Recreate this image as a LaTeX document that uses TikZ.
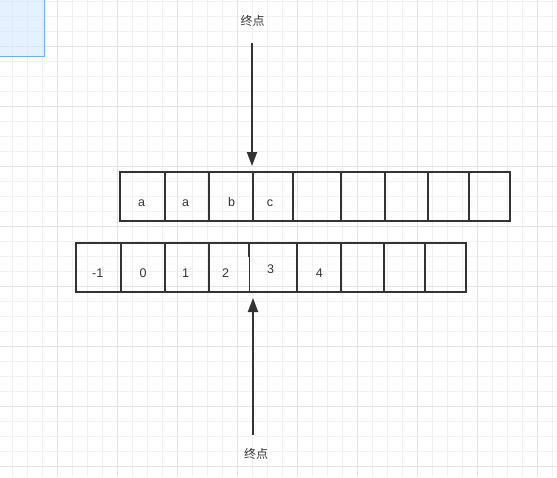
\documentclass[tikz,border=0pt]{standalone}
\usepackage{fontspec}
\setmainfont{Liberation Sans}
\newfontfamily\cjk{Noto Sans CJK SC}
\usetikzlibrary{arrows.meta}
\definecolor{ink}{HTML}{333333}
\definecolor{gridminor}{HTML}{F1F1F1}
\definecolor{gridmajor}{HTML}{E3E3E3}
\definecolor{selfill}{HTML}{CCE5FF}
\definecolor{selline}{HTML}{66B2FF}
\tikzset{
  box/.style={draw=ink, line width=1.8pt},
  pointer/.style={draw=ink, line width=2pt, -{Triangle[length=14pt,width=10pt]}},
  cellnum/.style={text=ink, font=\fontsize{12.5}{15}\selectfont, inner sep=0pt, anchor=base},
  endlabel/.style={text=ink, font=\cjk\fontsize{12}{14}\selectfont, inner sep=0pt}
}
\begin{document}
\begin{tikzpicture}[x=1pt, y=-1pt]
\useasboundingbox (0,0) rectangle (557,477);
\fill[white] (0,0) rectangle (557,477);
% grid
\foreach \k in {0,...,36}
  \draw[gridminor, line width=1pt] (12.7+15*\k, 0) -- (12.7+15*\k, 477);
\foreach \k in {0,...,31}
  \draw[gridminor, line width=1pt] (0, 1+15*\k) -- (557, 1+15*\k);
\foreach \k in {0,...,8}
  \draw[gridmajor, line width=1pt] (57.7+60*\k, 0) -- (57.7+60*\k, 477);
\foreach \k in {0,...,7}
  \draw[gridmajor, line width=1pt] (0, 46+60*\k) -- (557, 46+60*\k);
% selection in the corner
\filldraw[fill=selfill, fill opacity=0.5, draw=selline, line width=1pt]
(-2, -2) rectangle (44, 56);
% upper row
\draw[box] (120, 172) rectangle (510, 221);
\foreach \x in {165, 209, 253, 293, 341, 385, 428, 469}
  \draw[box] (\x, 172) -- (\x, 221);
\node[cellnum] (ca) at (141.7, 206) {a};
\node[cellnum] (cb) at (185.7, 206) {a};
\node[cellnum] (cc) at (231.7, 206) {b};
\node[cellnum] (cd) at (270, 206) {c};
% lower row
\draw[box] (76, 243) rectangle (466, 292);
\foreach \x in {121, 165, 209, 297, 341, 384, 425}
  \draw[box] (\x, 243) -- (\x, 292);
\draw[box] (249, 243) -- (249, 257);
\draw[ink, line width=0.8pt] (249, 257) -- (249, 292);
\node[cellnum] (n0) at (97.8, 277) {-1};
\node[cellnum] (n1) at (143, 277) {0};
\node[cellnum] (n2) at (185.7, 277) {1};
\node[cellnum] (n3) at (225.7, 277) {2};
\node[cellnum] (n4) at (270.7, 273.5) {3};
\node[cellnum] (n5) at (319.3, 277) {4};
% end markers
\node[endlabel] (endtop) at (252.5, 20.5) {终点};
\node[endlabel] (endbot) at (256, 454) {终点};
\coordinate (tailtop) at (252, 43);
\coordinate (tiptop) at (252, 166);
\coordinate (tailbot) at (253, 435);
\coordinate (tipbot) at (253, 298);
\draw[pointer] (tailtop) -- (tiptop);
\draw[pointer] (tailbot) -- (tipbot);
\end{tikzpicture}
\end{document}
